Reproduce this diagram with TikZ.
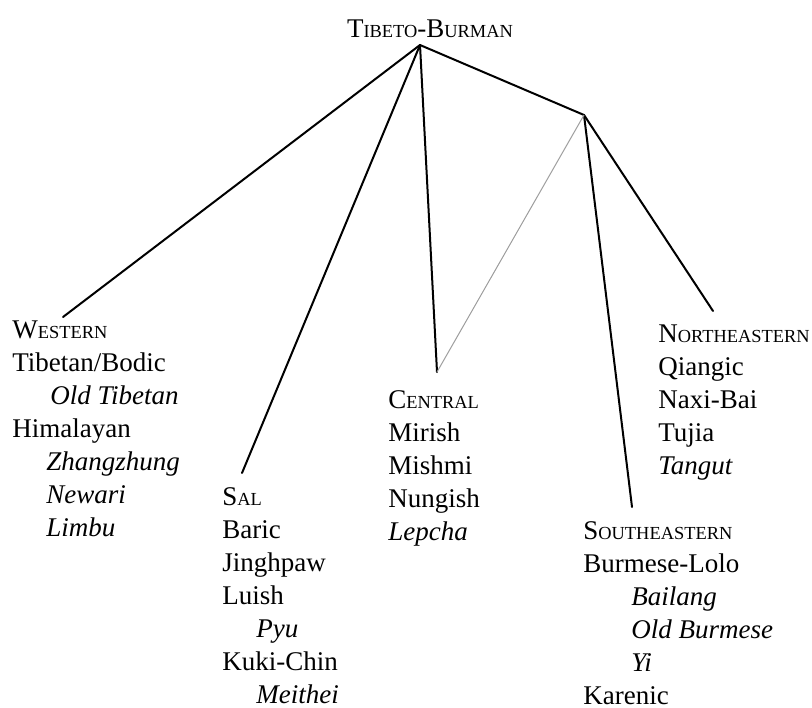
\documentclass[tikz,border=0pt]{standalone}
\usepackage{fontspec}
\setmainfont{Liberation Serif}
\usetikzlibrary{positioning}
\definecolor{contactgray}{gray}{0.62}
% first letter full size, the rest as small capitals
\newcommand{\fakesc}[2]{#1{\fontsize{9.2}{11}\selectfont #2}}
\newcommand{\langsub}[2]{\hspace*{#1}\textit{#2}}

\begin{document}
\begin{tikzpicture}[x=0.5pt,y=-0.5pt,
  font=\fontsize{13.5}{16.5}\selectfont,
  branch/.style={line width=1pt,line join=round,line cap=round},
  contact/.style={draw=contactgray,line width=.5pt},
  group/.style={align=left,inner sep=0pt,anchor=base west}]
  \useasboundingbox (0,0) rectangle (812,707);
  \node[anchor=base,inner sep=0pt] (root) at (430,37)
    {\fakesc{T}{IBETO}-\fakesc{B}{URMAN}};
  \coordinate (apex) at (420,45);
  \coordinate (eastapex) at (584,115);
  % subgroups (placed at the baseline of their last line)
  \node[group] (western) at (12,536)
    {\fakesc{W}{ESTERN}\\
     Tibetan/Bodic\\
     \langsub{19pt}{Old Tibetan}\\
     Himalayan\\
     \langsub{17pt}{Zhangzhung}\\
     \langsub{17pt}{Newari}\\
     \langsub{17pt}{Limbu}};
  \node[group] (sal) at (222,703)
    {\fakesc{S}{AL}\\
     Baric\\
     Jinghpaw\\
     Luish\\
     \langsub{17pt}{Pyu}\\
     Kuki-Chin\\
     \langsub{17pt}{Meithei}};
  \node[group] (central) at (388,540)
    {\fakesc{C}{ENTRAL}\\
     Mirish\\
     Mishmi\\
     Nungish\\
     \textit{Lepcha}};
  \node[group] (southeastern) at (583,704)
    {\fakesc{S}{OUTHEASTERN}\\
     Burmese-Lolo\\
     \langsub{24pt}{Bailang}\\
     \langsub{24pt}{Old Burmese}\\
     \langsub{24pt}{Yi}\\
     Karenic};
  \node[group] (northeastern) at (658,474)
    {\fakesc{N}{ORTHEASTERN}\\
     Qiangic\\
     Naxi-Bai\\
     Tujia\\
     \textit{Tangut}};
  % branch ends above each group
  \coordinate (western-end) at (63,317);
  \coordinate (sal-end) at (242,473);
  \coordinate (central-end) at (437,372);
  \coordinate (southeastern-end) at (632,507);
  \coordinate (northeastern-end) at (713,311);
  \draw[branch] (apex) -- (western-end);
  \draw[branch] (apex) -- (sal-end);
  \draw[branch] (apex) -- (central-end);
  \draw[branch] (apex) -- (eastapex);
  \draw[branch] (eastapex) -- (southeastern-end);
  \draw[branch] (eastapex) -- (northeastern-end);
  \draw[contact] (eastapex) -- (central-end);
\end{tikzpicture}
\end{document}
